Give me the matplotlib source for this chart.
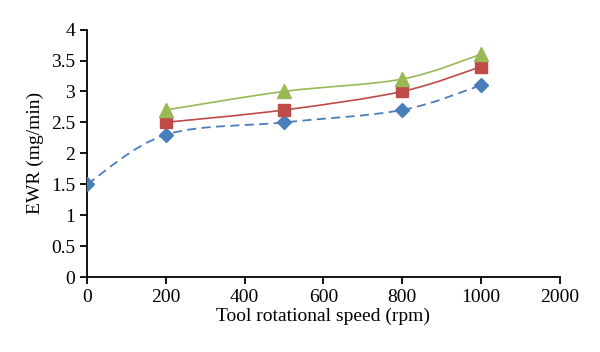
import numpy as np
import matplotlib
matplotlib.use("Agg")
import matplotlib.pyplot as plt
from matplotlib.path import Path
from matplotlib.patches import PathPatch

plt.rcParams['font.family'] = ['Liberation Serif', 'DejaVu Serif']

# data
speed_blue = [0, 200, 500, 800, 1000]
ewr_blue = [1.5, 2.3, 2.5, 2.7, 3.1]
speed_other = [200, 500, 800, 1000]
ewr_red = [2.5, 2.7, 3.0, 3.4]
ewr_green = [2.7, 3.0, 3.2, 3.6]

# x axis shows 2000 one step after 1000 (category-like spacing)
tick_pos = [0, 200, 400, 600, 800, 1000, 1200]
tick_labels = ['0', '200', '400', '600', '800', '1000', '2000']


def smooth_path(xs, ys):
    # Catmull-Rom style bezier, like Excel's smoothed line
    pts = np.column_stack([xs, ys]).astype(float)
    verts = [pts[0]]
    codes = [Path.MOVETO]
    n = len(pts)
    for i in range(n - 1):
        p0 = pts[i - 1] if i > 0 else pts[i]
        p1 = pts[i]
        p2 = pts[i + 1]
        p3 = pts[i + 2] if i + 2 < n else pts[i + 1]
        c1 = p1 + (p2 - p0) / 6.0
        c2 = p2 - (p3 - p1) / 6.0
        verts += [c1, c2, p2]
        codes += [Path.CURVE4] * 3
    return Path(verts, codes)


fig = plt.figure(figsize=(6, 3.52), dpi=100)
ax = fig.add_axes([0.145, 0.213, 0.788, 0.703])

blue = '#4a7ebb'
red = '#be4b48'
green = '#98b954'

ax.add_patch(PathPatch(smooth_path(speed_blue, ewr_blue), fill=False,
                       edgecolor=blue, lw=1.3, linestyle=(0, (5, 3))))
ax.add_patch(PathPatch(smooth_path(speed_other, ewr_red), fill=False,
                       edgecolor=red, lw=1.2))
ax.add_patch(PathPatch(smooth_path(speed_other, ewr_green), fill=False,
                       edgecolor=green, lw=1.2))

ax.plot(speed_blue, ewr_blue, linestyle='none', marker='D', markersize=7,
        color=blue, zorder=5)
ax.plot(speed_other, ewr_red, linestyle='none', marker='s', markersize=9,
        color=red, zorder=5)
ax.plot(speed_other, ewr_green, linestyle='none', marker='^', markersize=10,
        color=green, zorder=5)

ax.set_xlim(0, 1200)
ax.set_ylim(0, 4)
ax.set_xticks(tick_pos)
ax.set_xticklabels(tick_labels)
ax.set_yticks(np.arange(0, 4.01, 0.5))
ax.set_yticklabels(['0', '0.5', '1', '1.5', '2', '2.5', '3', '3.5', '4'])

for s in ['top', 'right']:
    ax.spines[s].set_visible(False)
for s in ['left', 'bottom']:
    ax.spines[s].set_linewidth(1.3)
ax.tick_params(labelsize=14, width=1.3, length=5, direction='out')

ax.set_xlabel('Tool rotational speed (rpm)', fontsize=14, labelpad=1)
ax.set_ylabel('EWR (mg/min)', fontsize=14, labelpad=5)

fig.savefig('out.png', dpi=100)
